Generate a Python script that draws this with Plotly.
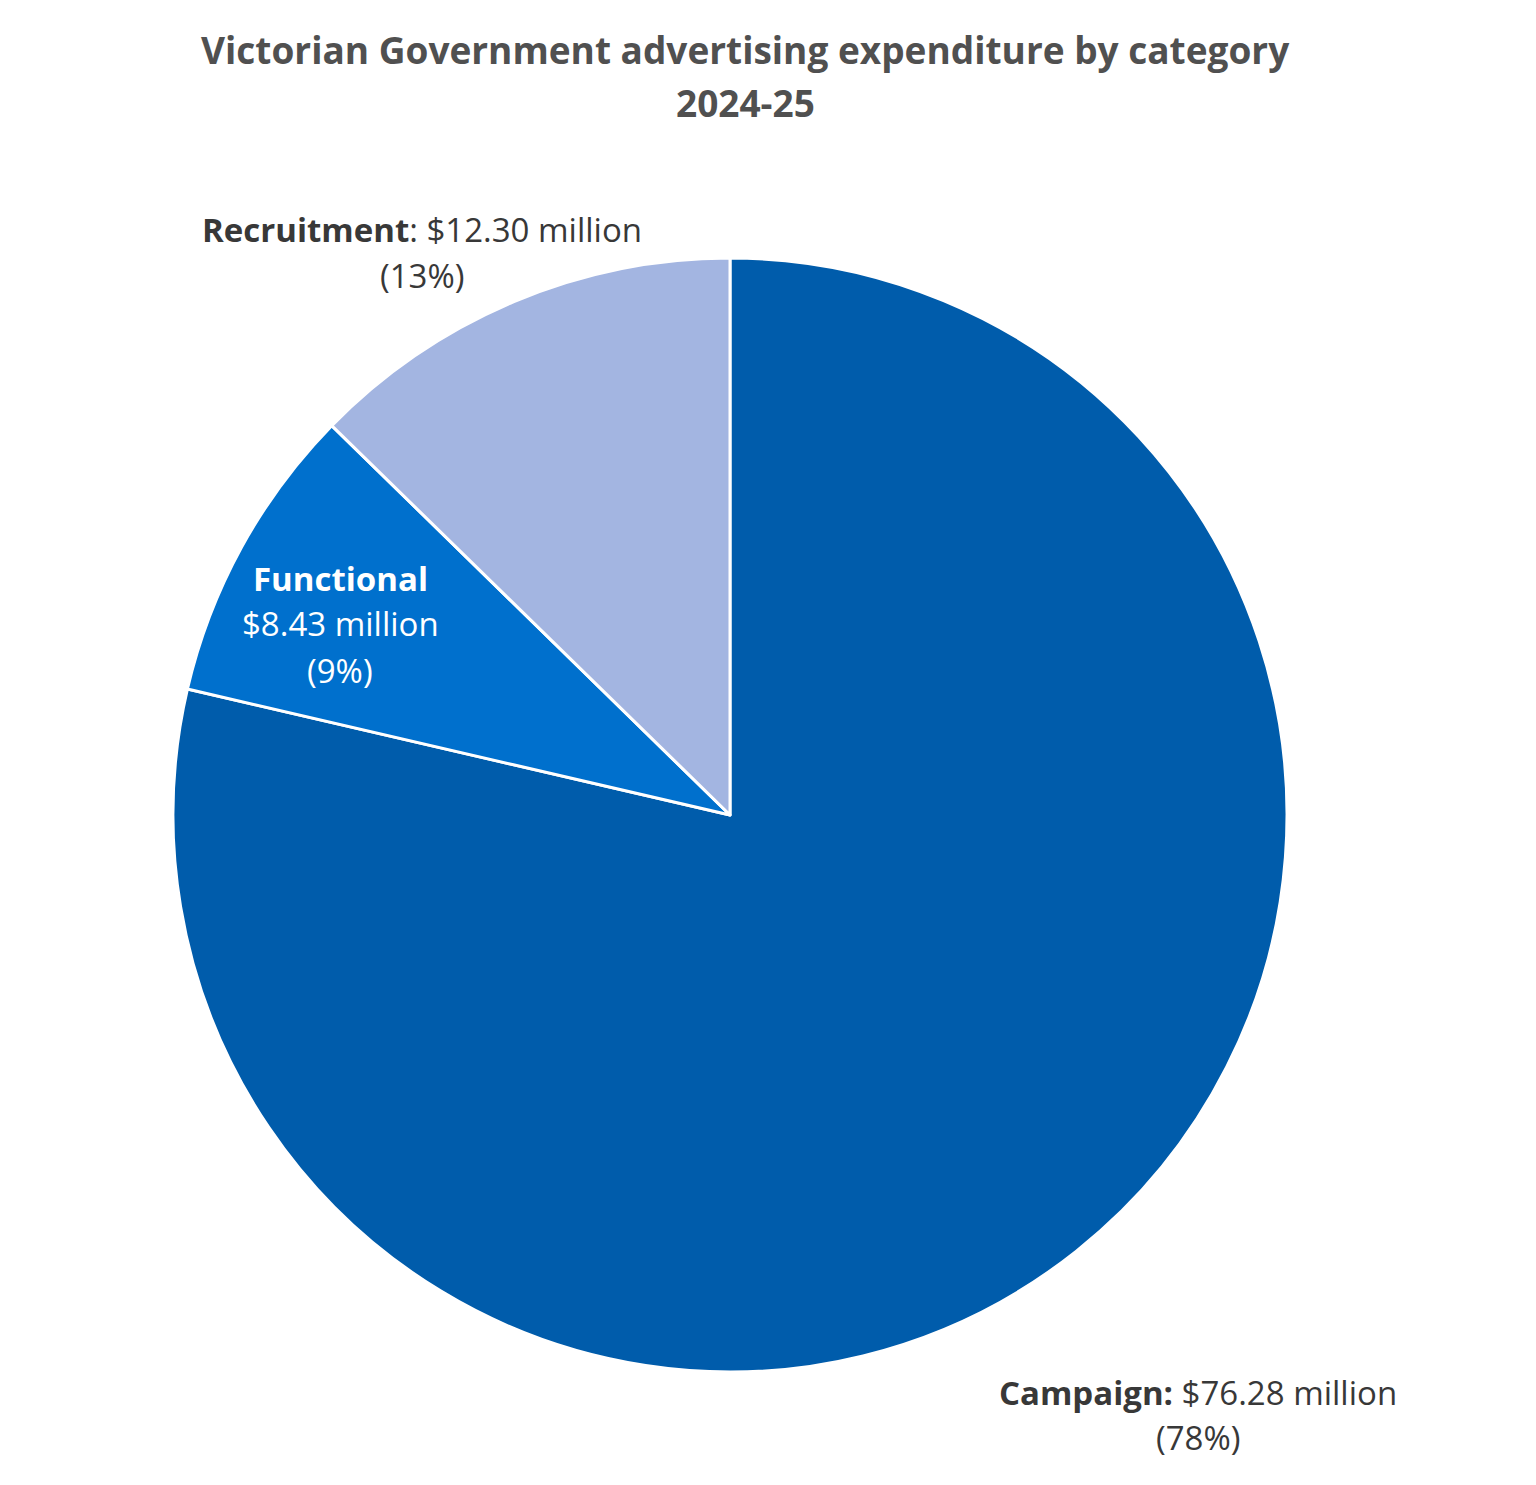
import plotly.graph_objects as go

categories = ["Campaign", "Functional", "Recruitment"]
values = [76.28, 8.43, 12.30]
percent_labels = ["78%", "9%", "13%"]
colors = ["#005CAB", "#0070CD", "#A3B5E1"]

W, H = 1536, 1485
OFF = 8  # page margin offset of the rendered figure
cx, cy, R = 730 - OFF, 815 - OFF, 557

fig = go.Figure(go.Pie(
    labels=categories,
    values=values,
    sort=False,
    direction="clockwise",
    rotation=0,
    marker=dict(colors=colors, line=dict(color="white", width=3)),
    textinfo="none",
    hoverinfo="label+value+percent",
    showlegend=False,
    domain=dict(x=[(cx - R) / W, (cx + R) / W], y=[1 - (cy + R) / H, 1 - (cy - R) / H]),
))

FONT = "Open Sans"
dark = "#383838"

def px(x):
    return (x - OFF) / W

def py(y):
    return 1 - (y - OFF) / H

annots = []
TS = 37
# Title
annots.append(dict(x=px(745), y=py(50), text="<b>Victorian Government advertising expenditure by category</b>",
                   font=dict(family=FONT, size=TS, color="#505050")))
annots.append(dict(x=px(745), y=py(102), text="<b>2024-25</b>",
                   font=dict(family=FONT, size=TS, color="#505050")))

LS = 33
# Recruitment
annots.append(dict(x=px(422), y=py(230), text=f"<b>{categories[2]}</b>: ${values[2]:.2f} million",
                   font=dict(family=FONT, size=LS, color=dark)))
annots.append(dict(x=px(422), y=py(275), text=f"({percent_labels[2]})",
                   font=dict(family=FONT, size=LS, color=dark)))
# Functional
annots.append(dict(x=px(340), y=py(579), text=f"<b>{categories[1]}</b>",
                   font=dict(family=FONT, size=LS, color="white")))
annots.append(dict(x=px(340), y=py(624), text=f"${values[1]:.2f} million",
                   font=dict(family=FONT, size=LS, color="white")))
annots.append(dict(x=px(340), y=py(670), text=f"({percent_labels[1]})",
                   font=dict(family=FONT, size=LS, color="white")))
# Campaign
annots.append(dict(x=px(1198), y=py(1392), text=f"<b>{categories[0]}:</b> ${values[0]:.2f} million",
                   font=dict(family=FONT, size=LS, color=dark)))
annots.append(dict(x=px(1198), y=py(1437), text=f"({percent_labels[0]})",
                   font=dict(family=FONT, size=LS, color=dark)))

for a in annots:
    a.update(xref="paper", yref="paper", showarrow=False, xanchor="center", yanchor="middle")

fig.update_layout(
    width=W, height=H,
    margin=dict(l=0, r=0, t=0, b=0),
    paper_bgcolor="white",
    plot_bgcolor="white",
    annotations=annots,
)

fig.write_html("out.html")
